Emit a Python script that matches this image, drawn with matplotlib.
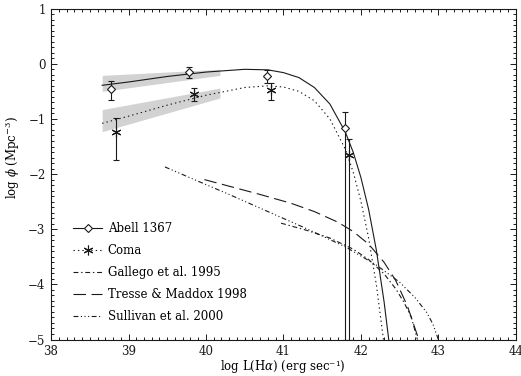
#!/usr/bin/env python
"""Función de luminosidad Hα: Abell 1367 y Coma frente a tres FL de campo."""
import matplotlib
matplotlib.use("Agg")
import matplotlib.pyplot as plt
from matplotlib.ticker import MultipleLocator

plt.rcParams["font.family"] = ["DejaVu Serif"]
plt.rcParams["mathtext.fontset"] = "dejavuserif"
plt.rcParams["lines.scale_dashes"] = False

# puntos de los cúmulos: log L(Ha), log phi y extremos de la barra de error
A1367_L = [38.78, 39.78, 40.79, 41.80]
A1367_PHI = [-0.46, -0.14, -0.23, -1.17]
A1367_LO = [-0.65, -0.25, -0.34, -5.0]
A1367_HI = [-0.32, -0.05, -0.12, -0.88]

COMA_L = [38.84, 39.85, 40.84, 41.85]
COMA_PHI = [-1.23, -0.54, -0.47, -1.66]
COMA_LO = [-1.75, -0.68, -0.65, -5.0]
COMA_HI = [-0.99, -0.43, -0.34, -1.37]

# ajustes Schechter de los cúmulos
A1367_FIT_L = [38.66, 39.0, 39.5, 40.0, 40.5, 40.8, 41.0, 41.2, 41.4, 41.6,
               41.8, 41.9, 42.0, 42.1, 42.2, 42.3, 42.37]
A1367_FIT_PHI = [-0.39, -0.33, -0.23, -0.15, -0.10, -0.11, -0.16, -0.25, -0.43, -0.73,
                 -1.24, -1.60, -2.06, -2.64, -3.38, -4.32, -5.12]
COMA_FIT_L = [38.66, 39.0, 39.5, 40.0, 40.5, 40.8, 41.0, 41.2, 41.4, 41.6,
              41.8, 41.9, 42.0, 42.1, 42.2, 42.3]
COMA_FIT_PHI = [-1.08, -0.95, -0.75, -0.57, -0.43, -0.40, -0.42, -0.50, -0.67, -1.00,
                -1.55, -1.96, -2.49, -3.16, -4.01, -5.09]

# bandas de incertidumbre de la pendiente débil
BAND_L = [38.66, 40.18]
A1367_BAND_LO = [-0.50, -0.21]
A1367_BAND_HI = [-0.21, -0.10]
COMA_BAND_LO = [-1.23, -0.62]
COMA_BAND_HI = [-0.83, -0.44]

# FL de campo
GALLEGO_L = [40.97, 41.3, 41.6, 41.9, 42.1, 42.3, 42.45, 42.55, 42.65, 42.73]
GALLEGO_PHI = [-2.89, -3.02, -3.16, -3.36, -3.55, -3.81, -4.08, -4.31, -4.59, -5.0]
TRESSE_L = [39.98, 40.3, 40.7, 41.1, 41.4, 41.7, 41.9, 42.1, 42.3, 42.45, 42.6, 42.75]
TRESSE_PHI = [-2.10, -2.22, -2.37, -2.53, -2.68, -2.87, -3.04, -3.27, -3.60, -3.93, -4.39, -5.01]
SULLIVAN_L = [39.47, 39.8, 40.3, 40.8, 41.3, 41.8, 42.2, 42.5, 42.7, 42.85, 42.93, 43.0]
SULLIVAN_PHI = [-1.87, -2.07, -2.37, -2.68, -2.99, -3.32, -3.65, -3.96, -4.24, -4.51, -4.72, -5.0]

LABELS = ["Abell 1367", "Coma", "Gallego et al. 1995",
          "Tresse & Maddox 1998", "Sullivan et al. 2000"]

INK = "#1a1a1a"
LW = 0.8
STAR = (6, 2, 0)   # asterisco de 6 brazos


def err(phi, lo, hi):
    return [[p - l for p, l in zip(phi, lo)], [h - p for p, h in zip(phi, hi)]]


fig = plt.figure(figsize=(5.21, 3.76), dpi=100)
ax = fig.add_axes([0.098, 0.097, 0.892, 0.880])

ax.fill_between(BAND_L, A1367_BAND_LO, A1367_BAND_HI, color="#d2d2d2", lw=0, zorder=1)
ax.fill_between(BAND_L, COMA_BAND_LO, COMA_BAND_HI, color="#d2d2d2", lw=0, zorder=1)

h_a, = ax.plot(A1367_FIT_L, A1367_FIT_PHI, color=INK, lw=LW, zorder=3)
h_c, = ax.plot(COMA_FIT_L, COMA_FIT_PHI, color=INK, lw=LW, ls=(0, (1, 2.2)), zorder=3)
h_g, = ax.plot(GALLEGO_L, GALLEGO_PHI, color=INK, lw=LW, ls=(0, (3.5, 2, 1, 2)))
h_t, = ax.plot(TRESSE_L, TRESSE_PHI, color=INK, lw=LW, ls=(0, (9, 4)))
h_s, = ax.plot(SULLIVAN_L, SULLIVAN_PHI, color=INK, lw=LW,
               ls=(0, (3.5, 1.8, 0.8, 1.8, 0.8, 1.8, 0.8, 1.8)))

ax.errorbar(A1367_L, A1367_PHI, yerr=err(A1367_PHI, A1367_LO, A1367_HI),
            fmt="D", ms=4.5, mfc="white", mec=INK, mew=LW, ecolor=INK,
            elinewidth=LW, capsize=2, capthick=LW, zorder=4)
ax.errorbar(COMA_L, COMA_PHI, yerr=err(COMA_PHI, COMA_LO, COMA_HI),
            fmt="none", ecolor=INK, elinewidth=LW, capsize=2, capthick=LW, zorder=4)
ax.plot(COMA_L, COMA_PHI, ls="none", marker=STAR, ms=7, mec=INK, mew=LW, zorder=5)

# muestras para la leyenda (línea + símbolo)
leg_a, = ax.plot([], [], color=INK, lw=LW, marker="D", ms=4.5, mfc="white", mec=INK, mew=LW)
leg_c, = ax.plot([], [], color=INK, lw=LW, ls=(0, (1, 2.2)), marker=STAR, ms=7, mec=INK, mew=LW)
ax.legend([leg_a, leg_c, h_g, h_t, h_s], LABELS, loc="upper left",
          bbox_to_anchor=(0.047, 0.355), frameon=False, fontsize=8.5, numpoints=1,
          handlelength=2.5, handletextpad=0.45, labelspacing=0.77,
          borderpad=0, borderaxespad=0)

ax.set_xlim(38, 44)
ax.set_ylim(-5, 1)
ax.xaxis.set_major_locator(MultipleLocator(1))
ax.xaxis.set_minor_locator(MultipleLocator(0.1))
ax.yaxis.set_major_locator(MultipleLocator(1))
ax.yaxis.set_minor_locator(MultipleLocator(0.1))
ax.tick_params(which="both", direction="in", top=True, right=True, colors=INK,
               labelsize=8.5, width=0.7)
ax.tick_params(which="major", length=4, pad=4)
ax.tick_params(which="minor", length=2)
for s in ax.spines.values():
    s.set_linewidth(0.8)
    s.set_color(INK)

ax.set_xlabel(r"log L(H$\alpha$) (erg sec⁻¹)", fontsize=8.5)
ax.set_ylabel(r"log $\phi$ (Mpc$^{-3}$)", fontsize=8.5)
ax.xaxis.set_label_coords(0.498, -0.055)
ax.yaxis.set_label_coords(-0.062, 0.55)

fig.savefig("out.png", dpi=100)
